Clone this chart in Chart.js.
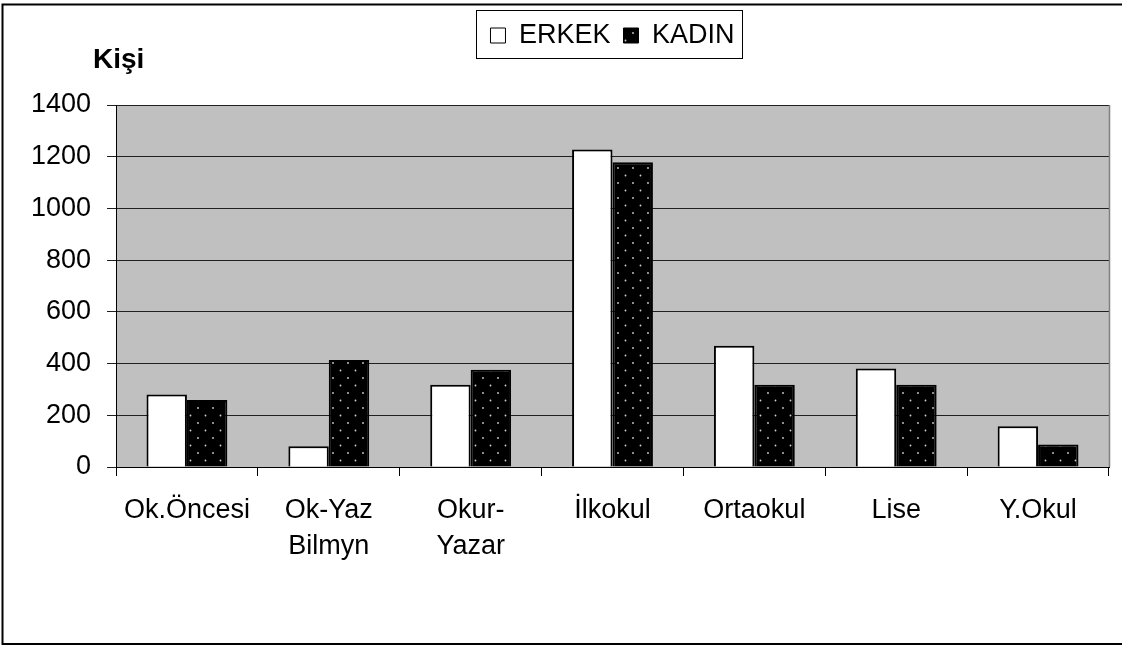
<!DOCTYPE html>
<html><head><meta charset="utf-8">
<script src="https://cdn.jsdelivr.net/npm/chart.js@4/dist/chart.umd.min.js"></script>
<style>html,body{margin:0;padding:0;background:#fff}canvas{display:block}</style>
</head><body>
<canvas id="c" width="1122" height="646"></canvas>
<script>
const categories = ['Ok.Öncesi', ['Ok-Yaz', 'Bilmyn'], ['Okur-', 'Yazar'], 'İlkokul', 'Ortaokul', 'Lise', 'Y.Okul'];
const seriesNames = ['ERKEK', 'KADIN'];
const erkekValues = [280, 80, 318, 1228, 469, 381, 158];
const kadinValues = [259, 414, 376, 1179, 318, 318, 87];
const yTicks = [0, 200, 400, 600, 800, 1000, 1200, 1400];
const yAxisTitle = 'Kişi';

const FONT = '"Liberation Sans", Arial, sans-serif';

function makeDots() {
  const c = document.createElement('canvas');
  c.width = 15; c.height = 15;
  const x = c.getContext('2d');
  x.fillStyle = '#000'; x.fillRect(0, 0, 15, 15);
  x.fillStyle = '#d0d0d0';
  x.beginPath(); x.arc(3, 3, 0.9, 0, Math.PI * 2); x.fill();
  x.beginPath(); x.arc(10.5, 10.5, 0.9, 0, Math.PI * 2); x.fill();
  return x.createPattern(c, 'repeat');
}
const dotPattern = makeDots();

const extras = {
  id: 'extras',
  beforeInit(chart) {
    const lg = chart.legend;
    const f = lg.fit;
    lg.fit = function () { f.call(this); this.height += 46; };
  },
  beforeDraw(chart) {
    const ctx = chart.ctx, a = chart.chartArea;
    ctx.save();
    ctx.fillStyle = '#fff'; ctx.fillRect(0, 0, chart.width, chart.height);
    ctx.fillStyle = '#c0c0c0'; ctx.fillRect(a.left, a.top, a.right - a.left, a.bottom - a.top);
    ctx.strokeStyle = '#000'; ctx.lineWidth = 2;
    ctx.strokeRect(2.5, 4.5, 1130, 639.5);
    ctx.restore();
  },
  beforeDatasetsDraw(chart) {
    const ctx = chart.ctx, a = chart.chartArea;
    ctx.save();
    ctx.strokeStyle = '#808080'; ctx.lineWidth = 1.5;
    ctx.beginPath(); ctx.moveTo(a.right + 0.5, a.top); ctx.lineTo(a.right + 0.5, a.bottom); ctx.stroke();
    ctx.restore();
  },
  afterDraw(chart) {
    const ctx = chart.ctx;
    const hb = chart.legend.legendHitBoxes;
    ctx.save();
    if (hb && hb.length) {
      const first = hb[0], last = hb[hb.length - 1];
      const x0 = Math.round(first.left - 14) + 0.5;
      const x1 = Math.round(last.left + last.width + 7) + 0.5;
      const y0 = Math.round(first.top - 12) + 0.5;
      const y1 = Math.round(first.top + first.height + 9) + 0.5;
      ctx.strokeStyle = '#000'; ctx.lineWidth = 1;
      ctx.strokeRect(x0, y0, x1 - x0, y1 - y0);
    }
    ctx.fillStyle = '#000';
    ctx.font = 'bold 28px ' + FONT;
    ctx.textBaseline = 'alphabetic';
    ctx.textAlign = 'left';
    ctx.fillText(yAxisTitle, 93, 68);
    ctx.restore();
  }
};

new Chart(document.getElementById('c'), {
  type: 'bar',
  data: {
    labels: categories,
    datasets: [
      { label: seriesNames[0], data: erkekValues, backgroundColor: '#ffffff', borderColor: '#000', borderWidth: 2,
        categoryPercentage: 0.57, barPercentage: 1.0 },
      { label: seriesNames[1], data: kadinValues, backgroundColor: dotPattern, borderColor: '#000', borderWidth: 2,
        categoryPercentage: 0.57, barPercentage: 1.0 }
    ]
  },
  options: {
    responsive: false,
    animation: false,
    devicePixelRatio: 1,
    layout: { padding: { left: 0, right: 13, top: 9, bottom: 0 } },
    plugins: {
      legend: {
        position: 'top',
        fullSize: false,
        labels: {
          color: '#000', boxWidth: 15, boxHeight: 15, padding: 13,
          font: { family: FONT, size: 27 },
          generateLabels(chart) {
            const items = Chart.defaults.plugins.legend.labels.generateLabels(chart);
            items.forEach(i => { i.lineWidth = 1; });
            return items;
          }
        }
      },
      title: { display: false },
      tooltip: { enabled: false }
    },
    scales: {
      x: {
        afterFit(s) { s.height = 179; },
        grid: { display: true, drawOnChartArea: false, drawTicks: true, tickLength: 9, color: '#000', offset: true },
        border: { display: true, color: '#000', width: 1 },
        ticks: { color: '#000', padding: 17, maxRotation: 0, autoSkip: false,
          font: { family: FONT, size: 27, lineHeight: 1.33 } }
      },
      y: {
        min: yTicks[0], max: yTicks[yTicks.length - 1],
        afterFit(s) { s.width = 116; },
        grid: { color: '#202020', lineWidth: 1, drawTicks: true, tickLength: 9 },
        border: { display: true, color: '#000', width: 1 },
        ticks: { stepSize: yTicks[1] - yTicks[0], color: '#000', padding: 16,
          callback: v => String(v),
          font: { family: FONT, size: 27 } }
      }
    }
  },
  plugins: [extras]
});
</script>
</body></html>
